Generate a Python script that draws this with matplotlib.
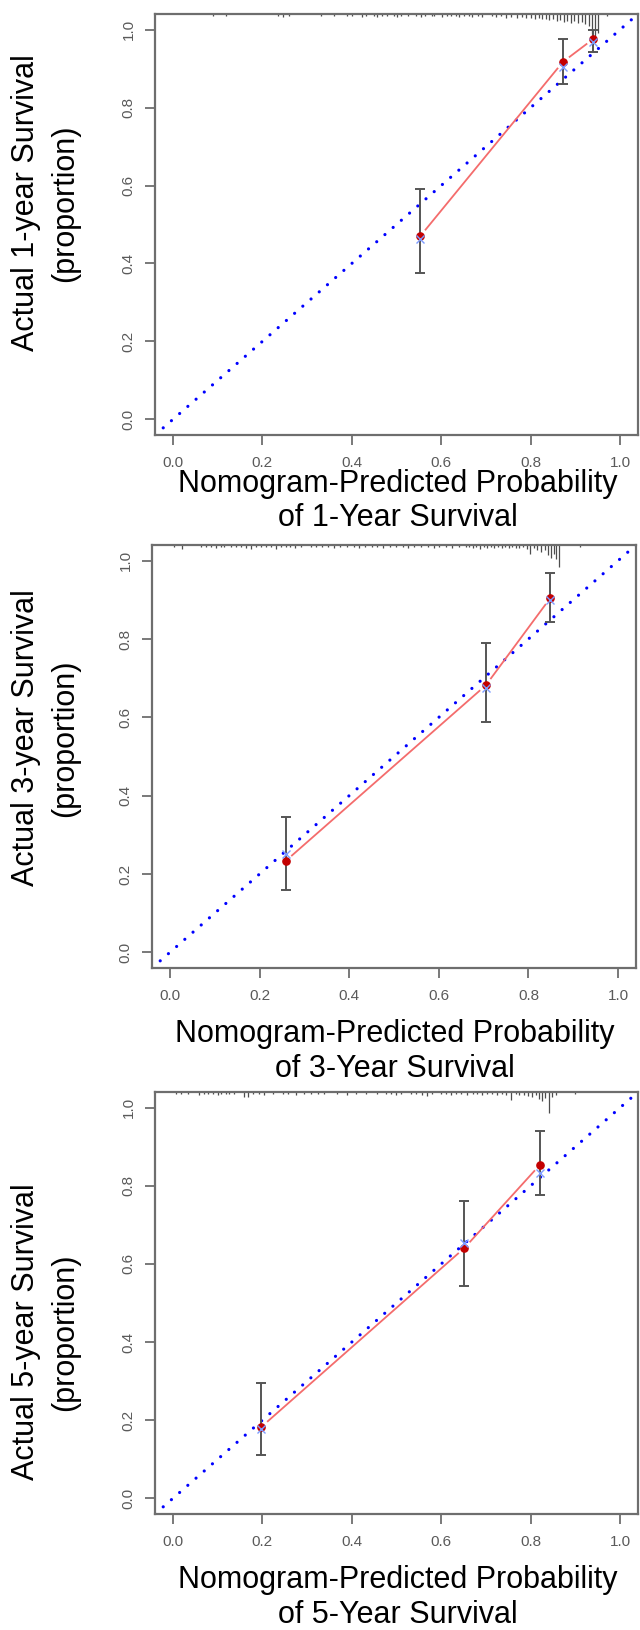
import matplotlib
matplotlib.use("Agg")
import matplotlib.pyplot as plt
import numpy as np

plt.rcParams['font.family'] = ['Liberation Sans', 'DejaVu Sans']

# ---------------- data ----------------
ticks = [0.0, 0.2, 0.4, 0.6, 0.8, 1.0]
tick_labels = ["0.0", "0.2", "0.4", "0.6", "0.8", "1.0"]

ylabels = ["Actual 1-year Survival", "Actual 3-year Survival", "Actual 5-year Survival"]
ylabel2 = "(proportion)"
xlabel1 = "Nomogram-Predicted Probability"
xlabels2 = ["of 1-Year Survival", "of 3-Year Survival", "of 5-Year Survival"]

pred_1 = [0.553, 0.872, 0.940]
obs_1 = [0.470, 0.917, 0.976]
lo_1 = [0.376, 0.861, 0.943]
hi_1 = [0.590, 0.976, 1.000]
corr_1 = [0.462, 0.905, 0.968]

pred_3 = [0.258, 0.705, 0.849]
obs_3 = [0.233, 0.682, 0.905]
lo_3 = [0.159, 0.587, 0.843]
hi_3 = [0.346, 0.789, 0.969]
corr_3 = [0.252, 0.675, 0.900]

pred_5 = [0.198, 0.652, 0.821]
obs_5 = [0.183, 0.641, 0.854]
lo_5 = [0.112, 0.544, 0.776]
hi_5 = [0.296, 0.760, 0.940]
corr_5 = [0.178, 0.653, 0.833]

# distribution spikes along the top edge (position, spike length in y units)
rug_x_1 = [0.090, 0.118, 0.235, 0.247, 0.259, 0.332, 0.360, 0.389, 0.400, 0.423,
           0.432, 0.450, 0.456, 0.468, 0.479, 0.494, 0.501, 0.510, 0.526, 0.544,
           0.555, 0.564, 0.580, 0.584, 0.602, 0.613, 0.622, 0.633, 0.640, 0.651,
           0.662, 0.668, 0.682, 0.691, 0.713, 0.722, 0.734, 0.745, 0.756, 0.770,
           0.780, 0.790, 0.800, 0.810, 0.818, 0.826, 0.834, 0.842, 0.850, 0.858,
           0.866, 0.874, 0.882, 0.890, 0.898, 0.906, 0.914, 0.922, 0.930, 0.938,
           0.944, 0.950, 0.970]
rug_len_1 = [0.006, 0.006, 0.005, 0.008, 0.005, 0.006, 0.005, 0.006, 0.005, 0.007,
             0.005, 0.006, 0.008, 0.005, 0.006, 0.005, 0.007, 0.005, 0.006, 0.005,
             0.008, 0.005, 0.006, 0.005, 0.007, 0.005, 0.006, 0.005, 0.007, 0.005,
             0.006, 0.008, 0.005, 0.007, 0.006, 0.008, 0.006, 0.009, 0.007, 0.010,
             0.008, 0.011, 0.009, 0.012, 0.010, 0.014, 0.012, 0.016, 0.013, 0.018,
             0.015, 0.020, 0.017, 0.022, 0.019, 0.024, 0.021, 0.026, 0.030, 0.052,
             0.056, 0.050, 0.004]

rug_x_3 = [0.009, 0.027, 0.069, 0.080, 0.091, 0.102, 0.114, 0.120, 0.136, 0.147,
           0.158, 0.169, 0.180, 0.191, 0.203, 0.214, 0.225, 0.236, 0.247, 0.258,
           0.269, 0.280, 0.292, 0.314, 0.327, 0.340, 0.352, 0.365, 0.380, 0.395,
           0.410, 0.422, 0.435, 0.450, 0.462, 0.475, 0.490, 0.505, 0.520, 0.532,
           0.545, 0.560, 0.575, 0.590, 0.600, 0.615, 0.630, 0.645, 0.660, 0.668,
           0.676, 0.684, 0.692, 0.700, 0.708, 0.716, 0.724, 0.732, 0.740, 0.748,
           0.756, 0.764, 0.772, 0.780, 0.788, 0.796, 0.804, 0.812, 0.820, 0.828,
           0.836, 0.844, 0.850, 0.856, 0.862, 0.868, 0.915]
rug_len_3 = [0.005, 0.009, 0.005, 0.006, 0.005, 0.007, 0.005, 0.006, 0.005, 0.006,
             0.005, 0.007, 0.009, 0.005, 0.006, 0.005, 0.006, 0.009, 0.005, 0.006,
             0.005, 0.007, 0.005, 0.006, 0.005, 0.006, 0.005, 0.007, 0.005, 0.006,
             0.005, 0.008, 0.005, 0.006, 0.005, 0.007, 0.005, 0.006, 0.005, 0.007,
             0.005, 0.006, 0.005, 0.008, 0.005, 0.006, 0.007, 0.005, 0.006, 0.005,
             0.007, 0.006, 0.010, 0.005, 0.007, 0.006, 0.008, 0.005, 0.007, 0.006,
             0.008, 0.006, 0.007, 0.008, 0.006, 0.010, 0.024, 0.008, 0.012, 0.018,
             0.014, 0.026, 0.032, 0.024, 0.036, 0.056, 0.004]

rug_x_5 = [0.007, 0.018, 0.034, 0.058, 0.069, 0.078, 0.089, 0.100, 0.107, 0.119,
           0.125, 0.136, 0.159, 0.168, 0.179, 0.192, 0.204, 0.224, 0.246, 0.257,
           0.275, 0.293, 0.309, 0.324, 0.338, 0.367, 0.389, 0.409, 0.432, 0.456,
           0.477, 0.488, 0.499, 0.510, 0.532, 0.544, 0.557, 0.568, 0.579, 0.600,
           0.611, 0.622, 0.633, 0.644, 0.658, 0.670, 0.680, 0.691, 0.702, 0.714,
           0.725, 0.736, 0.745, 0.756, 0.767, 0.774, 0.785, 0.795, 0.803, 0.811,
           0.819, 0.826, 0.833, 0.840, 0.848, 0.856, 0.900]
rug_len_5 = [0.005, 0.006, 0.005, 0.007, 0.005, 0.006, 0.005, 0.007, 0.005, 0.006,
             0.005, 0.006, 0.013, 0.012, 0.006, 0.005, 0.007, 0.005, 0.006, 0.005,
             0.007, 0.005, 0.006, 0.005, 0.006, 0.005, 0.007, 0.005, 0.006, 0.005,
             0.006, 0.005, 0.007, 0.005, 0.006, 0.005, 0.007, 0.009, 0.005, 0.006,
             0.005, 0.007, 0.005, 0.006, 0.008, 0.005, 0.006, 0.007, 0.005, 0.006,
             0.008, 0.005, 0.007, 0.020, 0.006, 0.008, 0.008, 0.010, 0.014, 0.008,
             0.018, 0.022, 0.016, 0.055, 0.012, 0.008, 0.004]

panels = [
    dict(pred=pred_1, obs=obs_1, lo=lo_1, hi=hi_1, corr=corr_1, rx=rug_x_1, rl=rug_len_1),
    dict(pred=pred_3, obs=obs_3, lo=lo_3, hi=hi_3, corr=corr_3, rx=rug_x_3, rl=rug_len_3),
    dict(pred=pred_5, obs=obs_5, lo=lo_5, hi=hi_5, corr=corr_5, rx=rug_x_5, rl=rug_len_5),
]

# ---------------- layout (pixels of the 640x1630 canvas) ----------------
W, H = 640.0, 1630.0
boxes = [(155, 14, 638, 435), (152, 545, 636, 968), (155, 1092, 638, 1514)]
ylab_y = [203, 738, 1332]
xlab_y = [(484, 518), (1034, 1069), (1580, 1615)]
xlab_x = [398, 395, 398]

LIM = (-0.04, 1.04)
GRAY_AX = '#6e6e6e'
GRAY_TXT = '#5a5a5a'

fig = plt.figure(figsize=(6.4, 16.3), dpi=100)


def px_rect(l, t, r, b):
    return [l / W, 1 - b / H, (r - l) / W, (b - t) / H]


def gapped_line(ax, xs, ys, gap_px, **kw):
    pts = ax.transData.transform(np.column_stack([xs, ys]))
    inv = ax.transData.inverted()
    for i in range(len(pts) - 1):
        p, q = pts[i], pts[i + 1]
        d = q - p
        L = np.hypot(d[0], d[1])
        u = d / L
        a, b = inv.transform(np.array([p + u * gap_px, q - u * gap_px]))
        ax.plot([a[0], b[0]], [a[1], b[1]], **kw)


for i, pdat in enumerate(panels):
    ax = fig.add_axes(px_rect(*boxes[i]))
    ax.set_xlim(*LIM)
    ax.set_ylim(*LIM)

    # ideal line
    ax.plot(LIM, LIM, color='#0000ff', lw=2.3, linestyle=(0, (0.01, 3.4)),
            dash_capstyle='round', zorder=2)

    # calibration line (type "b" style, gaps around the points)
    gapped_line(ax, pdat['pred'], pdat['obs'], 8.5, color='#f46c6c', lw=1.3, zorder=3)

    # error bars
    obs = np.array(pdat['obs'])
    yerr = np.vstack([obs - np.array(pdat['lo']), np.array(pdat['hi']) - obs])
    ax.errorbar(pdat['pred'], obs, yerr=yerr, fmt='none', ecolor='#555555',
                elinewidth=1.4, capsize=3.6, capthick=1.4, zorder=4)

    # observed points
    ax.plot(pdat['pred'], obs, 'o', color='#c40000', markersize=5.2, zorder=5)
    # bias-corrected points
    ax.plot(pdat['pred'], pdat['corr'], 'x', color='#7d9cff', markersize=5.5,
            mew=1.0, zorder=6)

    # top spike histogram
    top = LIM[1]
    rl = np.array(pdat['rl'])
    ax.vlines(pdat['rx'], top - rl, top, color='#4d4d4d', lw=0.9, zorder=1)

    # axes styling
    ax.set_xticks(ticks)
    ax.set_xticklabels(tick_labels)
    ax.set_yticks(ticks)
    ax.set_yticklabels(tick_labels, rotation=90, va='center', ha='right')
    ax.tick_params(axis='both', direction='out', length=7, width=1.3,
                   color=GRAY_AX, labelcolor=GRAY_TXT, labelsize=11)
    ax.tick_params(axis='x', pad=8)
    ax.tick_params(axis='y', pad=7)
    for s in ax.spines.values():
        s.set_color(GRAY_AX)
        s.set_linewidth(1.6)

    # labels
    fig.text(26.5 / W, 1 - ylab_y[i] / H, ylabels[i], rotation=90,
             ha='center', va='center', fontsize=22, color='black')
    fig.text(65 / W, 1 - ylab_y[i] / H, ylabel2, rotation=90,
             ha='center', va='center', fontsize=22, color='black')
    fig.text(xlab_x[i] / W, 1 - xlab_y[i][0] / H, xlabel1,
             ha='center', va='center', fontsize=22, color='black')
    fig.text(xlab_x[i] / W, 1 - xlab_y[i][1] / H, xlabels2[i],
             ha='center', va='center', fontsize=22, color='black')

fig.savefig('out.png', dpi=100)
